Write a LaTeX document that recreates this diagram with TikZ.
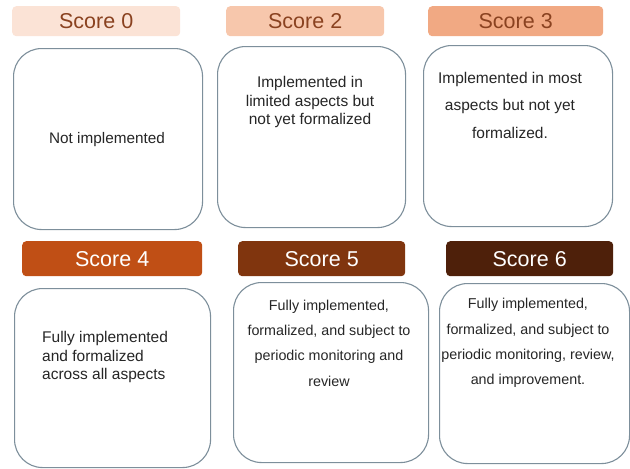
\documentclass[tikz,border=0pt]{standalone}
\usepackage{fontspec}
\setmainfont{Liberation Sans}
\begin{document}
\definecolor{hdrA}{HTML}{FBE3D6}
\definecolor{hdrB}{HTML}{F7C7AC}
\definecolor{hdrC}{HTML}{F1A983}
\definecolor{hdrD}{HTML}{C04F15}
\definecolor{hdrE}{HTML}{80350E}
\definecolor{hdrF}{HTML}{4E200A}
\definecolor{hdrtxt}{HTML}{8A4220}
\definecolor{boxline}{HTML}{7D8F9B}
\definecolor{bodytxt}{HTML}{262626}
\begin{tikzpicture}[x=1pt,y=-1pt,
  header/.style={rectangle, rounded corners=4pt, draw=none, inner sep=0pt,
    anchor=north west, font=\fontsize{21.5}{24}\selectfont},
  lighthdr/.style={header, text=hdrtxt},
  darkhdr/.style={header, text=white},
  card/.style={rectangle, rounded corners=28pt, draw=boxline, line width=1.1pt,
    fill=white, anchor=north west, inner sep=0pt},
  desc/.style={text=bodytxt, inner sep=0pt}]
\useasboundingbox (0,0) rectangle (630,469);

% score headers, top row
\node[lighthdr, fill=hdrA, minimum width=168pt, minimum height=30pt] (h0) at (12,6) {Score 0};
\node[lighthdr, fill=hdrB, minimum width=158pt, minimum height=30pt] (h2) at (226,6) {Score 2};
\node[lighthdr, fill=hdrC, minimum width=175pt, minimum height=30pt] (h3) at (428,6) {Score 3};

% score headers, bottom row
\node[darkhdr, fill=hdrD, minimum width=180pt, minimum height=35pt] (h4) at (22,241) {Score 4};
\node[darkhdr, fill=hdrE, minimum width=167pt, minimum height=35pt] (h5) at (238,241) {Score 5};
\node[darkhdr, fill=hdrF, minimum width=167pt, minimum height=35pt] (h6) at (446,241) {Score 6};

% description cards
\node[card, minimum width=189pt, minimum height=181pt] (c0) at (13,48) {};
\node[card, minimum width=188pt, minimum height=181pt] (c2) at (217,46) {};
\node[card, minimum width=189pt, minimum height=181pt] (c3) at (423,45) {};
\node[card, minimum width=196pt, minimum height=179pt] (c4) at (14,288) {};
\node[card, minimum width=195pt, minimum height=180pt] (c5) at (233,282) {};
\node[card, minimum width=190pt, minimum height=180pt] (c6) at (439,283) {};

% card texts
\node[desc, font=\fontsize{15.3}{18}\selectfont] (t0) at (107,140) {Not implemented};
\node[desc, align=center, font=\fontsize{15.5}{18.2}\selectfont] (t2) at (310,102)
  {Implemented in\\limited aspects but\\not yet formalized};
\node[desc, align=center, font=\fontsize{15.5}{27.5}\selectfont] (t3) at (510,105)
  {Implemented in most\\aspects but not yet\\formalized.};
\node[desc, align=left, anchor=west, font=\fontsize{15.5}{18.5}\selectfont] (t4) at (42,357)
  {Fully implemented\\and formalized\\across all aspects};
\node[desc, align=center, font=\fontsize{14.3}{25.3}\selectfont] (t5) at (329,343)
  {Fully implemented,\\formalized, and subject to\\periodic monitoring and\\review};
\node[desc, align=center, font=\fontsize{14.3}{25.3}\selectfont] (t6) at (528,343)
  {Fully implemented,\\formalized, and subject to\\periodic monitoring, review,\\and improvement.};
\end{tikzpicture}
\end{document}
